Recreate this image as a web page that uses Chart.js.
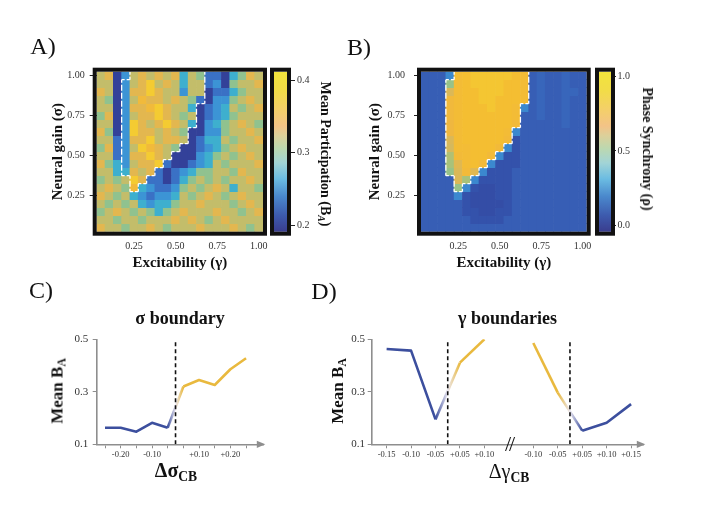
<!DOCTYPE html>
<html>
<head>
<meta charset="utf-8">
<script src="https://cdn.jsdelivr.net/npm/chart.js@4.4.1/dist/chart.umd.min.js"></script>
<style>
  html, body { margin: 0; padding: 0; background: #fff; }
  #fig { position: relative; width: 718px; height: 521px; overflow: hidden; background: #fff;
         font-family: 'Liberation Serif', 'DejaVu Serif', serif; color: #111; }
  #fig canvas { position: absolute; }
  .lbl { position: absolute; transform: translate(-50%, -50%); white-space: nowrap; line-height: 1; }
  .panel { font-size: 24px; }
  .rot-cw { transform: translate(-50%, -50%) rotate(90deg); }
  .rot-ccw { transform: translate(-50%, -50%) rotate(-90deg); }
  sub { font-size: 68%; vertical-align: -0.3em; line-height: 0; }
</style>
</head>
<body>
<div id="fig">
  <canvas id="heatA" width="278" height="280" style="left:0;top:0"></canvas>
  <canvas id="barA" width="70" height="280" style="left:268px;top:0"></canvas>
  <canvas id="heatB" width="284" height="280" style="left:320px;top:0"></canvas>
  <canvas id="barB" width="70" height="280" style="left:593px;top:0"></canvas>
  <canvas id="lineC" width="300" height="215" style="left:0;top:280px"></canvas>
  <canvas id="lineD" width="418" height="215" style="left:300px;top:280px"></canvas>

  <div class="lbl panel" style="left:43px;top:46px">A)</div>
  <div class="lbl panel" style="left:359px;top:47px">B)</div>
  <div class="lbl panel" style="left:41px;top:290px">C)</div>
  <div class="lbl panel" style="left:324px;top:291px">D)</div>
  <div class="lbl rot-cw" style="left:325px;top:154px;font-size:14px;font-weight:bold">Mean Participation (B<sub><i>A</i></sub>)</div>
  <div class="lbl rot-cw" style="left:647px;top:149px;font-size:14px;font-weight:bold">Phase Synchrony (ρ)</div>
  <div class="lbl rot-ccw" style="left:57px;top:391px;font-size:17px;font-weight:bold">Mean B<sub>A</sub></div>
  <div class="lbl rot-ccw" style="left:337px;top:391px;font-size:17px;font-weight:bold">Mean B<sub>A</sub></div>
  <div class="lbl" style="left:176px;top:470px;font-size:20px;font-weight:bold">Δσ<sub>CB</sub></div>
  <div class="lbl" style="left:509px;top:471px;font-size:20px">Δγ<sub style="font-weight:bold">CB</sub></div>
  <div class="lbl" style="left:509px;top:444px;font-size:22px;letter-spacing:-2px">//</div>
</div>

<script>
// grid levels of the two parameter sweeps
const gammaLevels = [0.05, 0.10, 0.15, 0.20, 0.25, 0.30, 0.35, 0.40, 0.45, 0.50,
                     0.55, 0.60, 0.65, 0.70, 0.75, 0.80, 0.85, 0.90, 0.95, 1.00];
const sigmaLevels = [0.05, 0.10, 0.15, 0.20, 0.25, 0.30, 0.35, 0.40, 0.45, 0.50,
                     0.55, 0.60, 0.65, 0.70, 0.75, 0.80, 0.85, 0.90, 0.95, 1.00];
const heatTicks = [0.25, 0.50, 0.75, 1.00];
const participationTicks = [0.2, 0.3, 0.4];
const synchronyTicks = [0.0, 0.5, 1.0];

// mean participation, rows from sigma = 1.00 (top) down to 0.05
const participationRows = [
  [.33,.35,.20,.26,.33,.35,.33,.35,.33,.35,.28,.33,.31,.24,.24,.20,.28,.31,.35,.33],
  [.33,.33,.20,.26,.33,.35,.39,.33,.35,.33,.28,.33,.33,.24,.26,.20,.31,.33,.33,.35],
  [.35,.33,.20,.26,.35,.35,.39,.35,.33,.33,.26,.33,.33,.20,.24,.24,.28,.31,.33,.33],
  [.33,.31,.20,.26,.33,.37,.35,.35,.33,.35,.33,.31,.24,.20,.26,.26,.31,.33,.35,.33],
  [.33,.33,.20,.26,.35,.35,.37,.39,.35,.33,.33,.28,.20,.24,.26,.28,.33,.31,.33,.35],
  [.31,.35,.20,.26,.33,.35,.35,.39,.35,.33,.31,.33,.20,.24,.26,.28,.31,.33,.33,.33],
  [.33,.33,.20,.26,.39,.35,.33,.35,.39,.35,.33,.28,.20,.26,.28,.31,.33,.35,.33,.31],
  [.35,.31,.20,.26,.39,.35,.35,.33,.35,.33,.31,.20,.20,.26,.26,.31,.33,.33,.35,.33],
  [.33,.33,.24,.26,.35,.35,.39,.33,.35,.35,.33,.20,.24,.28,.28,.33,.31,.33,.33,.35],
  [.31,.35,.24,.26,.33,.39,.37,.35,.33,.31,.20,.20,.24,.26,.28,.31,.33,.35,.33,.33],
  [.33,.33,.24,.26,.35,.35,.39,.35,.33,.20,.20,.20,.26,.28,.31,.33,.31,.33,.35,.33],
  [.35,.31,.28,.26,.33,.35,.35,.39,.24,.20,.20,.24,.26,.28,.33,.31,.33,.33,.33,.35],
  [.33,.33,.28,.28,.35,.33,.35,.24,.20,.24,.26,.28,.31,.31,.33,.33,.31,.35,.33,.33],
  [.31,.33,.31,.33,.39,.35,.24,.24,.20,.24,.28,.31,.33,.31,.33,.31,.33,.33,.35,.33],
  [.33,.35,.33,.31,.37,.28,.26,.24,.24,.26,.31,.33,.31,.33,.35,.33,.28,.33,.33,.31],
  [.35,.33,.31,.33,.28,.26,.24,.26,.26,.28,.33,.31,.33,.35,.33,.31,.33,.35,.33,.33],
  [.33,.31,.33,.31,.33,.28,.26,.28,.28,.31,.33,.33,.35,.33,.33,.33,.31,.33,.35,.33],
  [.31,.33,.35,.33,.31,.33,.31,.28,.31,.33,.35,.33,.33,.33,.35,.33,.33,.31,.33,.35],
  [.33,.33,.31,.33,.33,.31,.33,.33,.33,.35,.33,.35,.33,.31,.33,.35,.33,.33,.33,.33],
  [.35,.33,.33,.31,.33,.33,.35,.33,.31,.33,.33,.33,.35,.33,.33,.33,.35,.33,.31,.33]
];

// phase synchrony, same layout
const synchronyRows = [
  [.12,.12,.12,.26,.86,.88,.91,.91,.91,.91,.91,.88,.86,.12,.15,.12,.12,.15,.12,.12],
  [.12,.12,.12,.55,.86,.88,.91,.91,.91,.91,.88,.88,.86,.12,.15,.12,.12,.15,.12,.12],
  [.12,.12,.12,.70,.86,.88,.88,.91,.91,.91,.88,.88,.86,.12,.15,.12,.12,.15,.15,.12],
  [.12,.12,.12,.82,.86,.88,.88,.91,.91,.88,.88,.88,.86,.12,.15,.12,.12,.15,.12,.12],
  [.12,.12,.12,.82,.86,.88,.88,.88,.91,.88,.88,.86,.26,.12,.15,.12,.12,.15,.12,.12],
  [.12,.12,.12,.82,.86,.88,.88,.88,.88,.88,.88,.86,.12,.12,.15,.12,.12,.15,.12,.12],
  [.12,.12,.12,.80,.86,.88,.88,.88,.88,.88,.88,.84,.12,.12,.12,.12,.12,.15,.12,.12],
  [.12,.12,.12,.80,.86,.88,.88,.88,.88,.88,.86,.26,.12,.12,.12,.12,.12,.12,.12,.12],
  [.12,.12,.12,.70,.86,.88,.88,.88,.88,.88,.84,.07,.12,.12,.12,.12,.12,.12,.12,.12],
  [.12,.12,.12,.68,.86,.86,.88,.88,.88,.84,.26,.07,.12,.12,.12,.12,.12,.12,.12,.12],
  [.12,.12,.12,.60,.84,.86,.88,.88,.84,.26,.07,.07,.12,.12,.12,.12,.12,.12,.12,.12],
  [.12,.12,.12,.58,.72,.86,.88,.84,.26,.07,.07,.07,.12,.12,.12,.12,.12,.12,.12,.12],
  [.12,.12,.12,.55,.70,.84,.72,.26,.07,.07,.07,.12,.12,.12,.12,.12,.12,.12,.12,.12],
  [.12,.12,.12,.12,.70,.58,.26,.07,.07,.07,.07,.12,.12,.12,.12,.12,.12,.12,.12,.12],
  [.12,.12,.12,.12,.55,.26,.07,.05,.05,.07,.07,.12,.12,.12,.12,.12,.12,.12,.12,.12],
  [.12,.12,.12,.12,.26,.07,.05,.05,.05,.07,.07,.12,.12,.12,.12,.12,.12,.12,.12,.12],
  [.12,.12,.12,.12,.12,.07,.05,.05,.05,.05,.07,.12,.12,.12,.12,.12,.12,.12,.12,.12],
  [.12,.12,.12,.12,.12,.07,.07,.05,.05,.07,.07,.12,.12,.12,.12,.12,.12,.12,.12,.12],
  [.12,.12,.12,.12,.12,.12,.07,.07,.07,.07,.12,.12,.12,.12,.12,.12,.12,.12,.12,.12],
  [.12,.12,.12,.12,.12,.12,.12,.12,.12,.12,.12,.12,.12,.12,.12,.12,.12,.12,.12,.12]
];

// panel C: distance to the critical sigma boundary
const sigmaOffsets = ['-0.25', '-0.20', '-0.15', '-0.10', '-0.05', '+0.05', '+0.10', '+0.15', '+0.20', '+0.25'];
const sigmaMeanBA = [0.163, 0.163, 0.148, 0.182, 0.163, 0.320, 0.345, 0.326, 0.386, 0.428];
const sigmaTickLabels = ['-0.20', '-0.10', '+0.10', '+0.20'];

// panel D: distance to the lower and upper gamma boundaries
const gammaLowOffsets = ['-0.15', '-0.10', '-0.05', '+0.05', '+0.10'];
const gammaLowMeanBA = [0.463, 0.457, 0.195, 0.411, 0.500];
const gammaHighOffsets = ['-0.10', '-0.05', '+0.05', '+0.10', '+0.15'];
const gammaHighMeanBA = [0.486, 0.297, 0.152, 0.182, 0.253];
const meanTicks = [0.1, 0.3, 0.5];

const participationRange = [0.1908, 0.4115];
const synchronyRange = [-0.045, 1.034];

// cell colours
const colorStops = [
  [0.00, '#33368c'], [0.10, '#3450aa'], [0.22, '#3a70c4'], [0.33, '#3c9ad8'],
  [0.42, '#3fb4cc'], [0.50, '#78c2a4'], [0.58, '#a8c27a'], [0.66, '#d2ba60'],
  [0.76, '#eeb544'], [0.86, '#f4be32'], [0.94, '#f4d632'], [1.00, '#f4e634']
];
// the printed colour bars are paler in the middle
const colorbarStops = [
  [0.00, '#3a3d8e'], [0.10, '#3d5aad'], [0.22, '#4a88cc'], [0.33, '#6bbce2'],
  [0.43, '#a2d4d6'], [0.52, '#bcd8b0'], [0.60, '#dcd09a'], [0.66, '#f3c387'],
  [0.76, '#f4cf6a'], [0.88, '#f2dc48'], [1.00, '#f2e43c']
];
const BLUE = '#3c4f9e';
const YELLOW = '#e9b93e';
const AXIS_GRAY = '#8e8e8e';

Chart.defaults.font.family = "'Liberation Serif', 'DejaVu Serif', serif";
Chart.defaults.color = '#222';
Chart.defaults.animation = false;
Chart.defaults.events = [];
Chart.defaults.plugins.legend.display = false;
Chart.defaults.plugins.tooltip.enabled = false;

function hexToRgb(h) {
  const n = parseInt(h.slice(1), 16);
  return [n >> 16, (n >> 8) & 255, n & 255];
}

function colorOf(v, range) {
  const f = Math.min(1, Math.max(0, (v - range[0]) / (range[1] - range[0])));
  for (let k = 1; k < colorStops.length; k++) {
    if (f <= colorStops[k][0]) {
      const [f0, c0] = colorStops[k - 1];
      const [f1, c1] = colorStops[k];
      const t = (f - f0) / (f1 - f0);
      const a = hexToRgb(c0), b = hexToRgb(c1);
      return 'rgb(' + a.map((x, j) => Math.round(x + (b[j] - x) * t)).join(',') + ')';
    }
  }
  return colorStops[colorStops.length - 1][1];
}

const framePlugin = {
  id: 'frame',
  afterDatasetsDraw(chart) {
    const {ctx, chartArea: a} = chart;
    ctx.save();
    ctx.strokeStyle = '#111';
    ctx.lineWidth = 4;
    ctx.strokeRect(a.left - 2, a.top - 2, a.right - a.left + 4, a.bottom - a.top + 4);
    ctx.restore();
  }
};

const arrowPlugin = {
  id: 'axisArrow',
  afterDraw(chart) {
    const {ctx, chartArea: a} = chart;
    ctx.save();
    ctx.fillStyle = AXIS_GRAY;
    ctx.beginPath();
    ctx.moveTo(a.right + 2, a.bottom);
    ctx.lineTo(a.right - 6.5, a.bottom - 3.6);
    ctx.lineTo(a.right - 6.5, a.bottom + 3.6);
    ctx.closePath();
    ctx.fill();
    ctx.restore();
  }
};

// one floating bar per cell, one dataset per sigma row
function heatmapDatasets(rows, range) {
  const hh = (sigmaLevels[1] - sigmaLevels[0]) / 2;
  return rows.map((row, t) => {
    const s = sigmaLevels[rows.length - 1 - t];
    return {
      type: 'bar',
      data: row.map((v, i) => ({x: gammaLevels[i], y: [s - hh, s + hh]})),
      backgroundColor: row.map(v => colorOf(v, range)),
      borderWidth: 0,
      barPercentage: 1,
      categoryPercentage: 1,
      grouped: false,
      order: 2
    };
  });
}

// dashed outline of the synchronous region (synchrony > 0.5)
function boundaryDataset(rows, threshold) {
  const inside = rows.map(r => r.map(v => v > threshold));
  const hw = (gammaLevels[1] - gammaLevels[0]) / 2;
  const hh = (sigmaLevels[1] - sigmaLevels[0]) / 2;
  const n = rows.length;
  const pts = [];
  const seg = (x0, y0, x1, y1) => { pts.push({x: x0, y: y0}, {x: x1, y: y1}, {x: x1, y: null}); };
  inside.forEach((row, t) => row.forEach((isIn, i) => {
    if (!isIn) return;
    const gx = gammaLevels[i], sy = sigmaLevels[n - 1 - t];
    const l = gx - hw, r = gx + hw, b = sy - hh, top = sy + hh;
    if (i > 0 && !row[i - 1]) seg(l, b, l, top);
    if (i < row.length - 1 && !row[i + 1]) seg(r, b, r, top);
    if (t > 0 && !inside[t - 1][i]) seg(l, top, r, top);
    if (t < n - 1 && !inside[t + 1][i]) seg(l, b, r, b);
  }));
  return {
    type: 'line',
    data: pts,
    borderColor: '#ffffff',
    borderWidth: 1.3,
    borderDash: [3, 2],
    pointRadius: 0,
    fill: false,
    spanGaps: false,
    order: 0
  };
}

function heatmap(id, rows, range, o) {
  return new Chart(document.getElementById(id), {
    type: 'bar',
    data: {datasets: [boundaryDataset(synchronyRows, 0.5), ...heatmapDatasets(rows, range)]},
    options: {
      responsive: false,
      layout: {padding: {left: 0, right: o.padRight, top: 71.7, bottom: 0}},
      scales: {
        x: {
          type: 'linear', min: 0.025, max: 1.025, offset: false,
          afterBuildTicks: s => { s.ticks = heatTicks.map(v => ({value: v})); },
          afterFit: s => { s.height = 48.3; },
          grid: {display: false, drawTicks: false},
          border: {display: false},
          ticks: {padding: 9, font: {size: 10}, color: '#333', autoSkip: false, maxRotation: 0,
                  callback: v => v.toFixed(2)},
          title: {display: true, text: 'Excitability (γ)', color: '#111',
                  font: {size: 15, weight: 'bold'}, padding: {top: 0, bottom: 7.7}}
        },
        y: {
          type: 'linear', min: 0.025, max: 1.025,
          afterBuildTicks: s => { s.ticks = heatTicks.map(v => ({value: v})); },
          afterFit: s => { s.width = o.yWidth; },
          grid: {display: true, drawOnChartArea: false, drawTicks: true, tickLength: 7, color: '#222'},
          border: {display: false},
          ticks: {padding: o.tickPad, font: {size: 10}, color: '#333', callback: v => v.toFixed(2)},
          title: {display: true, text: 'Neural gain (σ)', color: '#111',
                  font: {size: 15, weight: 'bold'}, padding: {top: o.titlePad, bottom: 0}}
        }
      }
    },
    plugins: [framePlugin]
  });
}

function colorbar(id, range, ticks, o) {
  return new Chart(document.getElementById(id), {
    type: 'bar',
    data: {
      labels: [''],
      datasets: [{
        data: [[range[0], range[1]]],
        backgroundColor: c => {
          const a = c.chart.chartArea;
          if (!a) return 'transparent';
          const g = c.chart.ctx.createLinearGradient(0, a.bottom, 0, a.top);
          colorbarStops.forEach(([f, col]) => g.addColorStop(f, col));
          return g;
        },
        borderWidth: 0,
        barPercentage: 1,
        categoryPercentage: 1
      }]
    },
    options: {
      responsive: false,
      layout: {padding: {left: 6, right: 0, top: 71.7, bottom: 48.3}},
      scales: {
        x: {display: false},
        y: {
          position: 'right', min: range[0], max: range[1],
          afterBuildTicks: s => { s.ticks = ticks.map(v => ({value: v})); },
          afterFit: s => { s.width = o.width; },
          grid: {display: true, drawOnChartArea: false, tickLength: o.tickLen, color: '#222'},
          border: {display: false},
          ticks: {padding: o.tickPad, font: {size: 10}, color: '#333', callback: v => v.toFixed(1)}
        }
      }
    },
    plugins: [framePlugin]
  });
}

heatmap('heatA', participationRows, participationRange, {padRight: 15, yWidth: 96.7, tickPad: 5, titlePad: 49});
heatmap('heatB', synchronyRows, synchronyRange, {padRight: 17.3, yWidth: 101, tickPad: 9, titlePad: 46});
colorbar('barA', participationRange, participationTicks, {width: 51, tickLen: 8, tickPad: 2});
colorbar('barB', synchronyRange, synchronyTicks, {width: 52, tickLen: 5, tickPad: 1.5});

// line series coloured by side of the boundary, blended where it crosses it
function sideSeries(xs, ys, labels, leftColor, rightColor, ctx2d) {
  const lastLeft = labels.filter(l => l[0] === '-').length - 1;
  return {
    data: ys.map((y, i) => ({x: xs[i], y})),
    borderColor: leftColor,
    borderWidth: 2.6,
    borderJoinStyle: 'round',
    pointRadius: 0,
    fill: false,
    order: 1,
    segment: {
      borderColor: s => {
        if (s.p1DataIndex <= lastLeft) return leftColor;
        if (s.p0DataIndex > lastLeft) return rightColor;
        const g = ctx2d.createLinearGradient(s.p0.x, 0, s.p1.x, 0);
        g.addColorStop(0, leftColor);
        g.addColorStop(0.5, '#ebe7f0');
        g.addColorStop(1, rightColor);
        return g;
      }
    }
  };
}

function boundaryLine(x) {
  return {
    data: [{x, y: meanTicks[0]}, {x, y: meanTicks[meanTicks.length - 1]}],
    borderColor: '#111', borderWidth: 1.6, borderDash: [4, 3], pointRadius: 0, order: 0
  };
}

function lineOptions(o) {
  const axisGrid = {display: true, drawOnChartArea: false, drawTicks: true, tickLength: 4, color: AXIS_GRAY};
  const axisBorder = {display: true, color: AXIS_GRAY, width: 1.6};
  return {
    responsive: false,
    layout: {padding: {left: 0, right: o.padRight, top: 0, bottom: 20.7}},
    plugins: {
      title: {display: true, text: o.title, fullSize: false, color: '#111',
              font: {size: 18, weight: 'bold'}, padding: {top: 28.4, bottom: 9.3}}
    },
    scales: {
      x: {
        type: 'linear', min: o.xMin, max: o.xMax,
        afterBuildTicks: s => { s.ticks = o.tickPos.map(v => ({value: v})); },
        afterFit: s => { s.height = 30; },
        grid: axisGrid, border: axisBorder,
        ticks: {padding: 1.6, font: {size: 8.5}, color: '#333', autoSkip: false, maxRotation: 0,
                callback: o.tickLabel}
      },
      y: {
        min: meanTicks[0], max: meanTicks[meanTicks.length - 1],
        afterBuildTicks: s => { s.ticks = meanTicks.map(v => ({value: v})); },
        afterFit: s => { s.width = o.yWidth; },
        grid: axisGrid, border: axisBorder,
        ticks: {padding: o.yPad, font: {size: 11}, color: '#333', callback: v => v.toFixed(1)}
      }
    }
  };
}

// panel C
const canvasC = document.getElementById('lineC');
const sigmaPos = sigmaOffsets.map((_, i) => i);
const sigmaBoundary = sigmaOffsets.findIndex(s => s[0] === '+') - 0.5;
new Chart(canvasC, {
  type: 'line',
  data: {datasets: [
    boundaryLine(sigmaBoundary),
    sideSeries(sigmaPos, sigmaMeanBA, sigmaOffsets, BLUE, YELLOW, canvasC.getContext('2d'))
  ]},
  options: lineOptions({
    title: 'σ boundary', padRight: 36.7, yWidth: 96.7, yPad: 4.4,
    xMin: -0.53, xMax: 10.1, tickPos: sigmaPos,
    tickLabel: v => sigmaTickLabels.includes(sigmaOffsets[v]) ? sigmaOffsets[v] : ''
  }),
  plugins: [arrowPlugin]
});

// panel D
const canvasD = document.getElementById('lineD');
const lowPos = gammaLowOffsets.map((_, i) => i);
const highPos = gammaHighOffsets.map((_, i) => i + gammaLowOffsets.length + 1);
const dTickPos = [...lowPos, ...highPos];
const dTickLabels = [...gammaLowOffsets, ...gammaHighOffsets];
const lowBoundary = lowPos[gammaLowOffsets.findIndex(s => s[0] === '+')] - 0.5;
const highBoundary = highPos[gammaHighOffsets.findIndex(s => s[0] === '+')] - 0.5;
const ctxD = canvasD.getContext('2d');
new Chart(canvasD, {
  type: 'line',
  data: {datasets: [
    boundaryLine(lowBoundary),
    boundaryLine(highBoundary),
    sideSeries(lowPos, gammaLowMeanBA, gammaLowOffsets, BLUE, YELLOW, ctxD),
    sideSeries(highPos, gammaHighMeanBA, gammaHighOffsets, YELLOW, BLUE, ctxD)
  ]},
  options: lineOptions({
    title: 'γ boundaries', padRight: 74.7, yWidth: 71.7, yPad: 2.7,
    xMin: -0.61, xMax: 10.5, tickPos: dTickPos,
    tickLabel: v => { const k = dTickPos.indexOf(v); return k >= 0 ? dTickLabels[k] : ''; }
  }),
  plugins: [arrowPlugin]
});
</script>
</body>
</html>
